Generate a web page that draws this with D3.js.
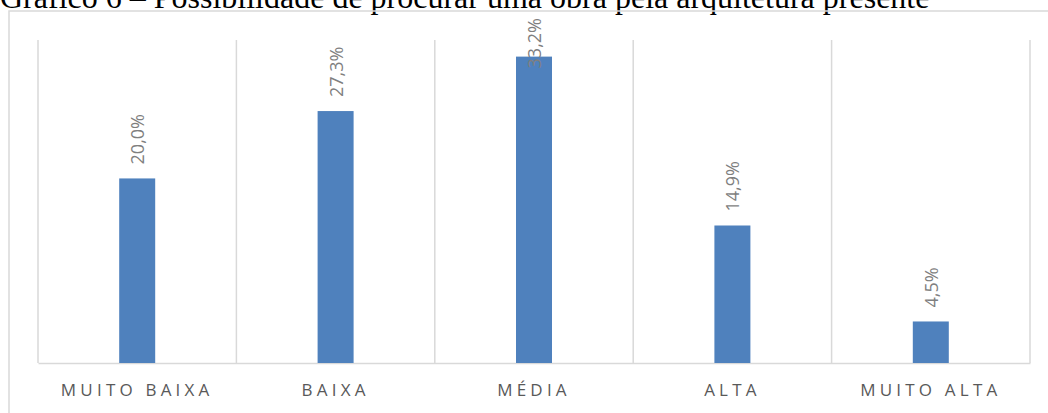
<!DOCTYPE html>
<html lang="pt">
<head>
<meta charset="UTF-8" />
<title>Gráfico 6</title>
<script src="https://cdn.jsdelivr.net/npm/d3@7"></script>
<style>
  body { margin: 0; background: #fff; }
  svg { display: block; }
</style>
</head>
<body>
<svg id="chart"></svg>
<script>
  // data
  const categories = ["MUITO BAIXA", "BAIXA", "MÉDIA", "ALTA", "MUITO ALTA"];
  const values = [20.0, 27.3, 33.2, 14.9, 4.5];
  const valueLabels = ["20,0%", "27,3%", "33,2%", "14,9%", "4,5%"];
  const title = "Gráfico 6 – Possibilidade de procurar uma obra pela arquitetura presente";

  const width = 1048, height = 413;
  const plot = { left: 38, right: 1030, top: 40, bottom: 363 };

  const svg = d3.select("#chart").attr("width", width).attr("height", height);

  // title (its top is cut off in the source picture)
  svg.append("text")
    .attr("x", 0).attr("y", 8)
    .attr("font-family", "'Liberation Serif', 'Times New Roman', serif")
    .attr("font-size", 32)
    .attr("fill", "#000")
    .text(title);

  // chart frame
  svg.append("rect")
    .attr("x", 9).attr("y", 11)
    .attr("width", 1060).attr("height", 420)
    .attr("fill", "none")
    .attr("stroke", "#d9d9d9")
    .attr("stroke-width", 1.5);

  const x = d3.scaleBand().domain(categories).range([plot.left, plot.right]);
  const y = d3.scaleLinear().domain([0, 35]).range([plot.bottom, plot.top]);

  // vertical category separators
  const sep = d3.range(categories.length + 1).map(i => plot.left + i * x.step());
  svg.append("g").selectAll("line")
    .data(sep)
    .join("line")
    .attr("x1", d => d).attr("x2", d => d)
    .attr("y1", plot.top).attr("y2", plot.bottom)
    .attr("stroke", "#d9d9d9")
    .attr("stroke-width", 1.5);

  // x axis baseline + labels
  const xAxis = svg.append("g")
    .attr("transform", `translate(0,${plot.bottom})`)
    .call(d3.axisBottom(x).tickSize(0).tickPadding(21));
  xAxis.select(".domain").attr("stroke", "#d9d9d9").attr("stroke-width", 1.5);
  xAxis.selectAll("text")
    .attr("font-family", "'Open Sans', sans-serif")
    .attr("font-size", 17)
    .attr("letter-spacing", "4.2px")
    .attr("fill", "#595959");

  const barW = 36;
  svg.append("g").selectAll("rect")
    .data(values)
    .join("rect")
    .attr("x", (d, i) => x(categories[i]) + x.bandwidth() / 2 - barW / 2)
    .attr("y", d => y(d))
    .attr("width", barW)
    .attr("height", d => y(0) - y(d))
    .attr("fill", "#4f81bd");

  // rotated value labels
  const labels = svg.append("g").selectAll("text")
    .data(values)
    .join("text")
    .attr("font-family", "'Open Sans', sans-serif")
    .attr("font-size", 18)
    .attr("fill", "#7f7f7f")
    .attr("dominant-baseline", "central")
    .text((d, i) => valueLabels[i]);

  labels.each(function (d, i) {
    const len = this.getComputedTextLength();
    const cx = x(categories[i]) + x.bandwidth() / 2;
    // text end sits above the bar, but never above the frame
    const end = Math.max(y(d) - 14, 18 + len);
    d3.select(this)
      .attr("text-anchor", "start")
      .attr("transform", `translate(${cx},${end}) rotate(-90)`);
  });
</script>
</body>
</html>
